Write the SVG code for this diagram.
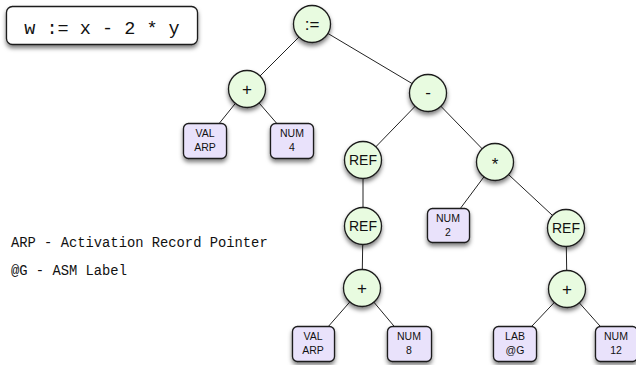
<svg xmlns="http://www.w3.org/2000/svg" width="636" height="365" viewBox="0 0 636 365">
  <style>
    .op circle { fill: #e8fbe0; stroke: #1a1a1a; stroke-width: 1.3; filter: url(#shadow); }
    .leaf rect { fill: #e9e2fb; stroke: #1a1a1a; stroke-width: 1.3; filter: url(#shadow); }
    .op text { font-family: "Liberation Sans Narrow", "Liberation Sans", Arial, sans-serif; font-size: 14px; fill: #111; text-anchor: middle; }
    .op text.sym { font-family: "Liberation Sans", Arial, sans-serif; font-size: 17px; }
    .leaf text { font-family: "Liberation Sans Narrow", "Liberation Sans", Arial, sans-serif; font-size: 10.5px; fill: #111; text-anchor: middle; }
    .edges line { stroke: #222; stroke-width: 1; }
    .legend { font-family: "Liberation Mono", "DejaVu Sans Mono", monospace; font-size: 13.8px; fill: #111; }
  </style>
  <defs>
    <filter id="shadow" x="-30%" y="-30%" width="160%" height="170%">
      <feDropShadow dx="0" dy="3" stdDeviation="2.2" flood-color="#000" flood-opacity="0.5"/>
    </filter>
  </defs>
  <rect width="636" height="365" fill="#ffffff"/>

  <!-- expression being compiled -->
  <g id="expr">
    <rect x="6.5" y="6.5" width="191" height="38" rx="6" fill="#fff" stroke="#1a1a1a" stroke-width="1.3" filter="url(#shadow)"/>
    <text x="102" y="34" text-anchor="middle" font-family="Liberation Mono, DejaVu Sans Mono, monospace" font-size="18.5" fill="#111">w := x - 2 * y</text>
  </g>

  <!-- tree edges -->
  <g class="edges">
    <line x1="312" y1="24" x2="247" y2="89"/>
    <line x1="312" y1="24" x2="428" y2="93"/>
    <line x1="247" y1="89" x2="205" y2="141"/>
    <line x1="247" y1="89" x2="292" y2="141"/>
    <line x1="428" y1="93" x2="363" y2="160"/>
    <line x1="428" y1="93" x2="495" y2="162"/>
    <line x1="363" y1="160" x2="363" y2="226"/>
    <line x1="363" y1="226" x2="362" y2="288"/>
    <line x1="362" y1="288" x2="313" y2="344"/>
    <line x1="362" y1="288" x2="409" y2="344"/>
    <line x1="495" y1="162" x2="448" y2="225"/>
    <line x1="495" y1="162" x2="566" y2="228"/>
    <line x1="566" y1="228" x2="567" y2="289"/>
    <line x1="567" y1="289" x2="515" y2="344"/>
    <line x1="567" y1="289" x2="616" y2="344"/>
  </g>

  <!-- operator nodes -->
  <g id="assign" class="op"><circle cx="312" cy="24" r="18.5"/><text class="sym" x="312" y="29.5">:=</text></g>
  <g id="add1" class="op"><circle cx="247" cy="89" r="18.5"/><text class="sym" x="247" y="95">+</text></g>
  <g id="sub" class="op"><circle cx="428" cy="93" r="18.5"/><text class="sym" x="428" y="98">-</text></g>
  <g id="ref1" class="op"><circle cx="363" cy="160" r="18.5"/><text x="363" y="165">REF</text></g>
  <g id="mul" class="op"><circle cx="495" cy="162" r="18.5"/><text class="sym" x="495" y="170">*</text></g>
  <g id="ref2" class="op"><circle cx="363" cy="226" r="18.5"/><text x="363" y="231">REF</text></g>
  <g id="ref3" class="op"><circle cx="566" cy="228" r="18.5"/><text x="566" y="233">REF</text></g>
  <g id="add2" class="op"><circle cx="362" cy="288" r="18.5"/><text class="sym" x="362" y="294">+</text></g>
  <g id="add3" class="op"><circle cx="567" cy="289" r="18.5"/><text class="sym" x="567" y="295">+</text></g>

  <!-- leaf nodes -->
  <g id="valarp1" class="leaf"><rect x="183.5" y="123.5" width="43" height="35" rx="5"/><text x="205" y="137">VAL</text><text x="205" y="151">ARP</text></g>
  <g id="num4" class="leaf"><rect x="270.5" y="123.5" width="43" height="35" rx="5"/><text x="292" y="137">NUM</text><text x="292" y="151">4</text></g>
  <g id="num2" class="leaf"><rect x="427.5" y="208.5" width="42" height="34" rx="5"/><text x="448" y="222">NUM</text><text x="448" y="236">2</text></g>
  <g id="valarp2" class="leaf"><rect x="292.5" y="326.5" width="42" height="35" rx="5"/><text x="313" y="340">VAL</text><text x="313" y="354">ARP</text></g>
  <g id="num8" class="leaf"><rect x="387.5" y="326.5" width="44" height="35" rx="5"/><text x="409" y="340">NUM</text><text x="409" y="354">8</text></g>
  <g id="labg" class="leaf"><rect x="493.5" y="326.5" width="43" height="35" rx="5"/><text x="515" y="340">LAB</text><text x="515" y="354">@G</text></g>
  <g id="num12" class="leaf"><rect x="595.5" y="326.5" width="42" height="35" rx="5"/><text x="616" y="340">NUM</text><text x="616" y="354">12</text></g>

  <!-- legend -->
  <text class="legend" x="11" y="247">ARP - Activation Record Pointer</text>
  <text class="legend" x="11" y="275">@G - ASM Label</text>
</svg>
